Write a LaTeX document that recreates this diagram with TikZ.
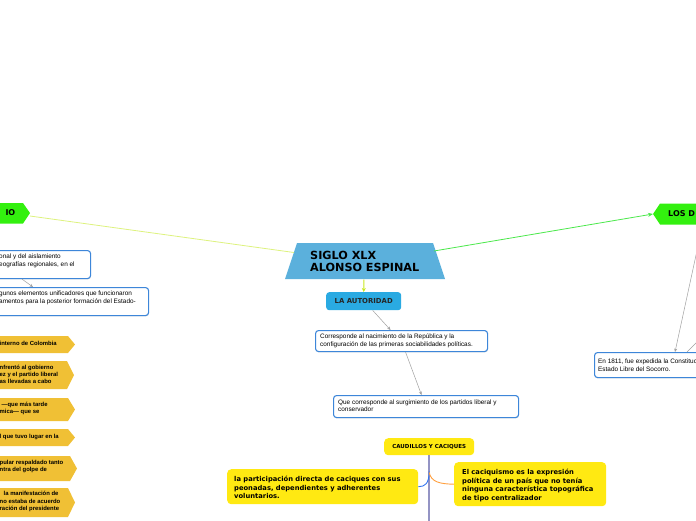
\documentclass[tikz,border=0pt]{standalone}
\usepackage{fontspec}
\usepackage{pdfrender}
\setmainfont{Liberation Sans}
\newfontfamily\heavy{DejaVu Sans Bold}
\newfontfamily\dvs{DejaVu Sans}
\newcommand{\heavytext}[1]{\textpdfrender{TextRenderingMode=FillStroke,LineWidth=0.55pt}{#1}}
\usetikzlibrary{arrows.meta,shadows}
\definecolor{bluebd}{HTML}{3D86D9}
\definecolor{trap}{HTML}{5BB0DC}
\definecolor{autfill}{HTML}{2AAAE2}
\definecolor{yel}{HTML}{FFE912}
\definecolor{mustard}{HTML}{F0C035}
\definecolor{grn}{HTML}{33F00F}
\definecolor{grnline}{HTML}{4BE84B}
\definecolor{paleline}{HTML}{DDF27E}
\definecolor{ygline}{HTML}{C8E81E}
\definecolor{vline}{HTML}{9494C4}
\definecolor{bcurve}{HTML}{3374EE}
\definecolor{ocurve}{HTML}{FFA040}
\begin{document}
\begin{tikzpicture}[x=1pt,y=-1pt,
  bluebox/.style={draw=bluebd, line width=1.1pt, fill=white, rounded corners=3pt, inner sep=0pt,
    drop shadow={shadow xshift=0.4pt, shadow yshift=-0.9pt, opacity=0.25}},
  btxt/.style={font=\fontsize{6.4}{7.6}\selectfont, align=left, inner sep=0pt, anchor=west},
  ybox/.style={fill=yel, rounded corners=4pt, inner sep=0pt},
  ytxt/.style={font=\dvs\bfseries\fontsize{6.75}{8.6}\selectfont, align=left, inner sep=0pt, anchor=west},
  atxt/.style={font=\bfseries\fontsize{5.9}{7.2}\selectfont, align=left, inner sep=0pt, anchor=west},
  gtxt/.style={font=\heavy\fontsize{8}{9}\selectfont, inner sep=0pt},
  garrow/.style={draw=gray!75, line width=0.5pt, -{Stealth[length=3.5pt,width=3pt]}},
  gline/.style={draw=gray!75, line width=0.5pt}]
\useasboundingbox (0,0) rectangle (696,520);
\clip (0,0) rectangle (696,520);

% ---- green side nodes
\fill[grn] (-5,203) -- (23,203) -- (30,213) -- (23,223.5) -- (-5,223.5) -- cycle;
\node[gtxt, anchor=east] (gl) at (15.5,213) {\heavytext{IO}};
\coordinate (glTip) at (30,216);
\fill[grn] (653,214) -- (660,203.5) -- (700,203.5) -- (700,224.5) -- (660,224.5) -- cycle;
\node[gtxt, anchor=west] (gr) at (668,214) {\heavytext{LOS D}};
\coordinate (grTip) at (653,214);

% ---- title
\fill[trap] (297,243) -- (433,243) -- (445,279) -- (285,279) -- cycle;
\node[font=\heavy\fontsize{11.2}{11.2}\selectfont, align=left, inner sep=0pt, anchor=west] (title) at (310,261.5) {\heavytext{SIGLO XLX}\\\heavytext{ALONSO ESPINAL}};
\coordinate (tL) at (294,252.5);
\coordinate (tR) at (434,251);
\coordinate (tB) at (364,279.5);

\draw[paleline, line width=0.8pt] (glTip) -- (tL);
\draw[grnline, line width=0.8pt, -{Stealth[length=5pt,width=4pt]}] (tR) -- (grTip);

% ---- authority
\node[fill=autfill, rounded corners=3pt, anchor=north west, minimum width=75pt, minimum height=18pt, inner sep=0pt,
  font=\dvs\bfseries\fontsize{6.9}{8}\selectfont, text=black!85] (aut) at (326,292) {LA AUTORIDAD};
\draw[ygline, line width=1pt, -{Stealth[length=4pt,width=4pt]}] (tB) -- (aut.north);

\node[bluebox, anchor=north west, minimum width=172pt, minimum height=21pt] (b1) at (315,330) {};
\node[btxt] (b1t) at (320,340.8) {Corresponde al nacimiento de la República y la\\configuración de las primeras sociabilidades políticas.};
\draw[garrow] ([xshift=9pt]aut.south) -- ([xshift=-11pt]b1.north);

\node[bluebox, anchor=north west, minimum width=185pt, minimum height=22pt] (b2) at (333,395) {};
\node[btxt] (b2t) at (338,405.8) {Que corresponde al surgimiento de los partidos liberal y\\conservador};
\draw[garrow] ([xshift=4pt]b1.south) -- ([xshift=-4.5pt]b2.north);

% ---- caudillos
\node[ybox, anchor=north west, minimum width=90pt, minimum height=17pt,
  font=\dvs\bfseries\fontsize{5.5}{6}\selectfont] (caud) at (384,438) {CAUDILLOS Y CACIQUES};
\draw[vline, line width=2.4pt] (caud.south) -- ++(0,70);

\node[ybox, anchor=north west, minimum width=191pt, minimum height=35pt] (ly) at (227,469) {};
\node[ytxt] (lyt) at (234,487.5) {la participación directa de caciques con sus\\peonadas, dependientes y adherentes\\voluntarios.};
\node[ybox, anchor=north west, minimum width=152pt, minimum height=44pt] (ry) at (454,462) {};
\node[ytxt] (ryt) at (462,485.5) {El caciquismo es la expresión\\política de un país que no tenía\\ninguna característica topográfica\\de tipo centralizador};

\draw[bcurve, line width=0.9pt] ([yshift=-16pt]caud.south) .. controls (429,484) and (425,486.5) .. (ly.east);
\draw[ocurve, line width=0.9pt] ([yshift=-17pt]caud.south) .. controls (431,482) and (440,484) .. (ry.west);

% ---- left blue boxes
\node[bluebox, anchor=north west, minimum width=100pt, minimum height=28pt] (bA) at (-10,250) {};
\node[btxt] (bAt) at (-1,261) {onal y del aislamiento\\eografías regionales, en el};
\node[bluebox, anchor=north west, minimum width=158pt, minimum height=28pt] (bB) at (-10,287) {};
\node[btxt] (bBt) at (-1,297.8) {gunos elementos unificadores que funcionaron\\amentos para la posterior formación del Estado-};
\draw[garrow] ([xshift=32pt]bA.south west) -- ([xshift=43pt]bB.north west);

% ---- left mustard arrows
\fill[mustard] (-5,336) -- (68,336) -- (75,344.5) -- (68,353) -- (-5,353) -- cycle;
\node[atxt] (ya1) at (-0.5,343) {interno de Colombia};
\fill[mustard] (-5,361) -- (67,361) -- (74,375) -- (67,389) -- (-5,389) -- cycle;
\node[atxt] (ya2) at (-0.5,374.5) {nfrentó al gobierno\\ez y el partido liberal\\as llevadas a cabo};
\fill[mustard] (-5,398) -- (68,398) -- (75,409.5) -- (68,421) -- (-5,421) -- cycle;
\node[atxt] (ya3) at (-0.5,408.5) {\hspace*{2pt}—que más tarde\\mica— que se};
\fill[mustard] (-5,429) -- (68,429) -- (75,437.5) -- (68,446) -- (-5,446) -- cycle;
\node[atxt] (ya4) at (-0.5,437) {l que tuvo lugar en la};
\fill[mustard] (-5,456) -- (70,456) -- (77,468.5) -- (70,481) -- (-5,481) -- cycle;
\node[atxt] (ya5) at (-0.5,466.5) {pular respaldado tanto\\ntra del golpe de};
\fill[mustard] (-5,488) -- (68,488) -- (75,502.5) -- (68,517) -- (-5,517) -- cycle;
\node[atxt] (ya6) at (-0.5,501.5) {\hspace*{4pt}la manifestación de\\no estaba de acuerdo\\ración del presidente};

% ---- right box
\node[bluebox, anchor=north west, minimum width=120pt, minimum height=25pt] (rb) at (594,352) {};
\node[btxt] (rbt) at (598,365) {En 1811, fue expedida la Constitución\\Estado Libre del Socorro.};
\coordinate (rs1) at (698,246);
\coordinate (rs2) at (700,339);
\draw[garrow] (rs1) -- ([xshift=81pt]rb.north west);
\draw[gline] (rs2) -- ([xshift=93pt]rb.north west);
\end{tikzpicture}
\end{document}
